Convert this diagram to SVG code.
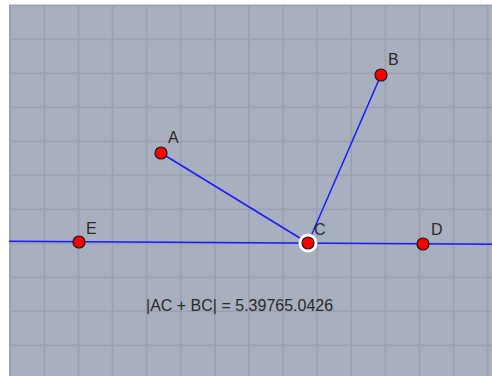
<svg xmlns="http://www.w3.org/2000/svg" width="492" height="376" viewBox="0 0 492 376">
<style>
.grid line{stroke:#9aa1b2;stroke-width:1.8}
.seg{stroke:#1a1aff;stroke-width:1.5;fill:none}
.pt{fill:#ff0000;stroke:#1a1a1a;stroke-width:1.2}
.lbl{font-family:"Liberation Sans",Arial,sans-serif;font-size:16px;fill:#2a2a2a}
</style>
<rect x="0" y="0" width="492" height="376" fill="#ffffff"/>
<rect x="9" y="5" width="483" height="371" fill="#a8afbf"/>
<g class="grid">
<line x1="10.3" y1="5" x2="10.3" y2="376"/>
<line x1="44.4" y1="5" x2="44.4" y2="376"/>
<line x1="78.5" y1="5" x2="78.5" y2="376"/>
<line x1="112.6" y1="5" x2="112.6" y2="376"/>
<line x1="146.7" y1="5" x2="146.7" y2="376"/>
<line x1="180.8" y1="5" x2="180.8" y2="376"/>
<line x1="214.9" y1="5" x2="214.9" y2="376"/>
<line x1="249" y1="5" x2="249" y2="376"/>
<line x1="283.1" y1="5" x2="283.1" y2="376"/>
<line x1="317.2" y1="5" x2="317.2" y2="376"/>
<line x1="351.3" y1="5" x2="351.3" y2="376"/>
<line x1="385.4" y1="5" x2="385.4" y2="376"/>
<line x1="419.5" y1="5" x2="419.5" y2="376"/>
<line x1="453.6" y1="5" x2="453.6" y2="376"/>
<line x1="487.7" y1="5" x2="487.7" y2="376"/>
<line x1="9" y1="5.3" x2="492" y2="5.3"/>
<line x1="9" y1="39.3" x2="492" y2="39.3"/>
<line x1="9" y1="73.3" x2="492" y2="73.3"/>
<line x1="9" y1="107.3" x2="492" y2="107.3"/>
<line x1="9" y1="141.3" x2="492" y2="141.3"/>
<line x1="9" y1="175.3" x2="492" y2="175.3"/>
<line x1="9" y1="209.3" x2="492" y2="209.3"/>
<line x1="9" y1="243.3" x2="492" y2="243.3"/>
<line x1="9" y1="277.3" x2="492" y2="277.3"/>
<line x1="9" y1="311.3" x2="492" y2="311.3"/>
<line x1="9" y1="345.3" x2="492" y2="345.3"/>
</g>
<g id="connectors">
<line class="seg" x1="9" y1="241.2" x2="492" y2="244.2"/>
<line class="seg" x1="161" y1="153" x2="308" y2="243"/>
<line class="seg" x1="381" y1="75" x2="308" y2="243"/>
</g>
<g id="node-A"><circle class="pt" cx="161" cy="153" r="6"/><text class="lbl" x="168" y="143">A</text></g>
<g id="node-B"><circle class="pt" cx="381" cy="75" r="6"/><text class="lbl" x="388" y="65">B</text></g>
<g id="node-C"><circle cx="308" cy="243" r="9.5" fill="#ffffff"/><circle class="pt" cx="308" cy="243" r="6"/><text class="lbl" x="314" y="235">C</text></g>
<g id="node-D"><circle class="pt" cx="423" cy="244" r="6"/><text class="lbl" x="431" y="235">D</text></g>
<g id="node-E"><circle class="pt" cx="79" cy="242" r="6"/><text class="lbl" x="86" y="234">E</text></g>
<text class="lbl" x="146" y="311">|AC + BC| = 5.39765.0426</text>
</svg>
